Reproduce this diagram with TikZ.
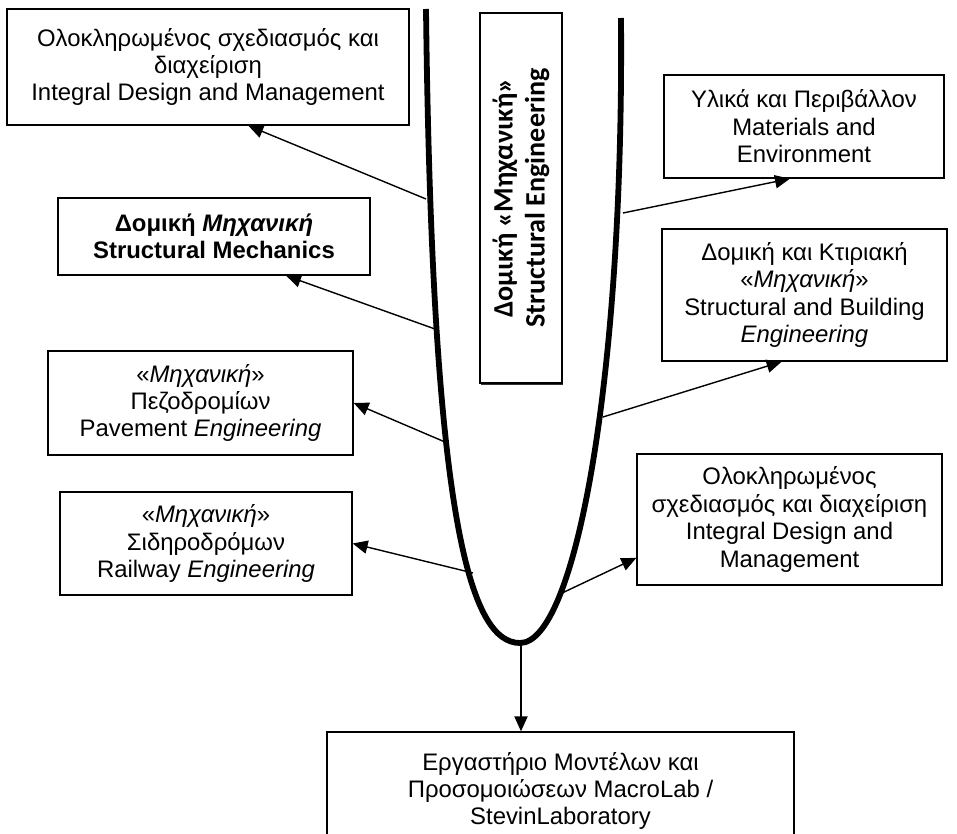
\documentclass[tikz,border=0pt]{standalone}
\usepackage{fontspec}
\setmainfont{Liberation Sans}
\newfontfamily\calibri{Carlito}
\usetikzlibrary{calc, arrows.meta, shadows}

\tikzset{
    box/.style={draw, line width=0.8pt, align=center, inner sep=0pt,
        font=\fontsize{13.6}{15.6}\selectfont},
    link/.style={-{Triangle[length=8.5pt, width=7.5pt]}, line width=0.8pt},
}

\begin{document}
\begin{tikzpicture}[x=0.02cm, y=-0.02cm]
    \useasboundingbox (0,0) rectangle (957,834);

    % U curve
    \draw[line width=3.3pt] (426,9) .. controls (432,520) and (470,643) .. (520,643)
        .. controls (575,643) and (624,380) .. (621,18);

    \coordinate (P1) at (426,199);
    \coordinate (P2) at (435,329);
    \coordinate (P3) at (445,442);
    \coordinate (P4) at (473,573);
    \coordinate (Q1) at (623,213);
    \coordinate (Q2) at (603,417);
    \coordinate (Q3) at (560,594);
    \coordinate (Q4) at (521,645);

    \node[draw, line width=0.8pt, minimum width=1.64cm, minimum height=7.4cm,
        fill=white, drop shadow={shadow xshift=0.8pt, shadow yshift=-1pt, fill=black!80, opacity=1}] (SE) at (521,198) {};
    \node[rotate=90, align=center, font=\calibri\bfseries\fontsize{16}{18.2}\selectfont] (setext) at (SE) {Δομική «Μηχανική»\\Structural Engineering};

    % left side
    \node[box, minimum width=8.04cm, minimum height=2.32cm] (idm) at (208,67) {Ολοκληρωμένος σχεδιασμός και\\διαχείριση\\Integral Design and Management};
    \node[box, minimum width=6.24cm, minimum height=1.54cm] (sm) at (214,236.5) {\textbf{Δομική \textit{Μηχανική}}\\\textbf{Structural Mechanics}};
    \node[box, minimum width=6.1cm, minimum height=2.08cm] (pe) at (200.5,403) {«\textit{Μηχανική}»\\Πεζοδρομίων\\Pavement \textit{Engineering}};
    \node[box, minimum width=5.84cm, minimum height=2.06cm] (re) at (206,543.5) {«\textit{Μηχανική}»\\Σιδηροδρόμων\\Railway \textit{Engineering}};

    % right side
    \node[box, minimum width=5.6cm, minimum height=2.06cm] (me) at (804,126.5) {Υλικά και Περιβάλλον\\Materials and\\Environment};
    \node[box, minimum width=5.7cm, minimum height=2.64cm] (sbe) at (804.5,295) {Δομική και Κτιριακή\\«\textit{Μηχανική}»\\Structural and Building\\\textit{Engineering}};
    \node[box, minimum width=6.1cm, minimum height=2.62cm] (idm2) at (789.5,519.5) {Ολοκληρωμένος\\σχεδιασμός και διαχείριση\\Integral Design and\\Management};

    % bottom
    \node[box, minimum width=9.34cm, minimum height=2.36cm] (lab) at (560.5,791) {Εργαστήριο Μοντέλων και\\Προσομοιώσεων MacroLab /\\StevinLaboratory};

    \draw[link] (P1) -- ($(idm.south west)!.6!(idm.south east)$);
    \draw[link] (P2) -- ($(sm.south west)!.73!(sm.south east)$);
    \draw[link] (P3) -- (pe.east);
    \draw[link] (P4) -- (re.east);
    \draw[link] (Q1) -- ($(me.south west)!.45!(me.south east)$);
    \draw[link] (Q2) -- ($(sbe.south west)!.42!(sbe.south east)$);
    \draw[link] (Q3) -- ($(idm2.north west)!.79!(idm2.south west)$);
    \draw[link] (Q4) -- (Q4 |- lab.north);
\end{tikzpicture}
\end{document}
